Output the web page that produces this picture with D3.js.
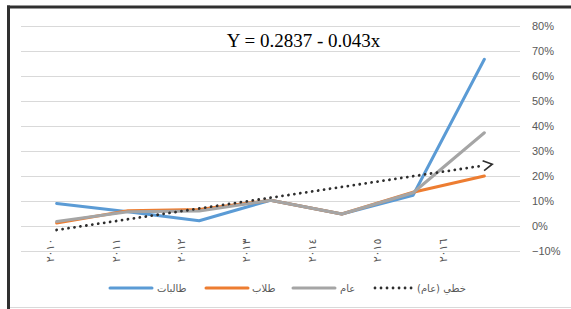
<!DOCTYPE html>
<html><head><meta charset="utf-8">
<script src="https://cdn.jsdelivr.net/npm/d3@7/dist/d3.min.js"></script>
<style>html,body{margin:0;padding:0;background:#fff;}svg{display:block;}</style>
</head><body>
<svg id="c" width="571" height="309"></svg>
<script>
const years = ["٢٠١٠","٢٠١١","٢٠١٢","٢٠١٣","٢٠١٤","٢٠١٥","٢٠١٦"];
const seriesNames = ["طالبات","طلاب","عام"];
const femaleValues = [0.090, 0.057, 0.021, 0.103, 0.048, 0.123, 0.667];
const maleValues   = [0.012, 0.061, 0.066, 0.103, 0.048, 0.135, 0.200];
const totalValues  = [0.018, 0.057, 0.060, 0.103, 0.048, 0.133, 0.373];
const trendName = "خطي (عام)";
const equationText = "Y = 0.2837 - 0.043x";
const yTicks = [-0.1, 0, 0.1, 0.2, 0.3, 0.4, 0.5, 0.6, 0.7, 0.8];

const colors = ["#5B9BD5", "#ED7D31", "#A5A5A5"];
const trendColor = "#2e2e2e";
const txtColor = "#595959";

const svg = d3.select("#c");
const x = d3.scalePoint().domain(years).range([21, 520]).padding(0.5);
const xLab = d3.scalePoint().domain(years).range([17, 475]).padding(0.5);
const y = d3.scaleLinear().domain([-0.1, 0.8]).range([251, 26]);

// frame
svg.append("line").attr("x1", 7).attr("x2", 571).attr("y1", 307.5).attr("y2", 307.5).attr("stroke", "#d9d9d9").attr("stroke-width", 1);
svg.append("line").attr("x1", 8.5).attr("x2", 8.5).attr("y1", 5.5).attr("y2", 309).attr("stroke", "#303030").attr("stroke-width", 3);
svg.append("line").attr("x1", 7).attr("x2", 571).attr("y1", 7).attr("y2", 7).attr("stroke", "#303030").attr("stroke-width", 3);

// gridlines
const yAxis = d3.axisRight(y).tickValues(yTicks).tickFormat(d3.format(".0%")).tickSize(-(520 - 21)).tickPadding(12);
const gy = svg.append("g").attr("transform", "translate(520,0)").call(yAxis);
gy.select(".domain").remove();
gy.selectAll(".tick line").attr("stroke", "#d9d9d9").attr("stroke-width", 1);
gy.selectAll(".tick text").style("fill", txtColor).attr("font-family", "Liberation Sans, Arial, sans-serif").attr("font-size", 11);

// x labels
const xAxis = d3.axisBottom(xLab).tickSize(0).tickPadding(0);
const gx = svg.append("g").attr("transform", "translate(0,250.5)").call(xAxis);
gx.select(".domain").remove();
gx.selectAll(".tick text")
  .attr("transform", "rotate(-90)")
  .attr("y", 0).attr("x", 0).attr("dy", "0.35em")
  .attr("text-anchor", "middle")
  .style("fill", txtColor)
  .style("letter-spacing", "1.5px")
  .attr("font-family", "DejaVu Sans, sans-serif")
  .attr("font-size", 11);

// series
const allSeries = [femaleValues, maleValues, totalValues];
const line = d3.line().x((d, i) => x(years[i])).y(d => y(d));
allSeries.forEach((vals, k) => {
  svg.append("path").datum(vals).attr("d", line)
    .attr("fill", "none").attr("stroke", colors[k]).attr("stroke-width", 3)
    .attr("stroke-linejoin", "round").attr("stroke-linecap", "round");
});

// linear trend of total
const xs = years.map((d, i) => i + 1);
const mx = d3.mean(xs), my = d3.mean(totalValues);
const slope = d3.sum(xs, (v, i) => (v - mx) * (totalValues[i] - my)) / d3.sum(xs, v => (v - mx) * (v - mx));
const icpt = my - slope * mx;
const trendVals = [xs[0], xs[xs.length - 1]].map(v => icpt + slope * v);
const defs = svg.append("defs");
defs.append("marker").attr("id", "arr").attr("markerUnits", "userSpaceOnUse")
  .attr("viewBox", "-12 -10 24 20").attr("markerWidth", 24).attr("markerHeight", 20)
  .attr("refX", 0).attr("refY", 0).attr("orient", "auto")
  .append("path").attr("d", "M-1,-5 L8,0 L-1,5").attr("fill", "none")
  .attr("stroke", trendColor).attr("stroke-width", 1.6).attr("stroke-linejoin", "miter");
svg.append("line")
  .attr("x1", x(years[0])).attr("y1", y(trendVals[0]))
  .attr("x2", x(years[years.length - 1])).attr("y2", y(trendVals[1]))
  .attr("stroke", trendColor).attr("stroke-width", 2.8)
  .attr("stroke-dasharray", "0.01 6").attr("stroke-linecap", "round")
  .attr("marker-end", "url(#arr)");

// equation
svg.append("text").attr("x", 303.5).attr("y", 47).attr("text-anchor", "middle")
  .attr("font-family", "Liberation Serif, Times New Roman, serif").attr("font-size", 19)
  .attr("fill", "#000").text(equationText);

// legend
const legSym = [110, 206, 293, 375];
const legTxt = [157, 252, 340, 417];
const legY = 288;
const legNames = seriesNames.concat([trendName]);
legNames.forEach((name, i) => {
  const l = svg.append("line").attr("x1", legSym[i]).attr("x2", legSym[i] + 42)
    .attr("y1", legY).attr("y2", legY).attr("stroke-width", i < 3 ? 3 : 2.8)
    .attr("stroke-linecap", "round");
  if (i < 3) l.attr("stroke", colors[i]);
  else l.attr("stroke", trendColor).attr("stroke-dasharray", "0.01 6");
  svg.append("text").attr("x", legTxt[i]).attr("y", legY).attr("dy", "0.35em")
    .attr("font-family", "DejaVu Sans, sans-serif").attr("font-size", 10)
    .style("fill", txtColor).text(name);
});
</script>
</body></html>
